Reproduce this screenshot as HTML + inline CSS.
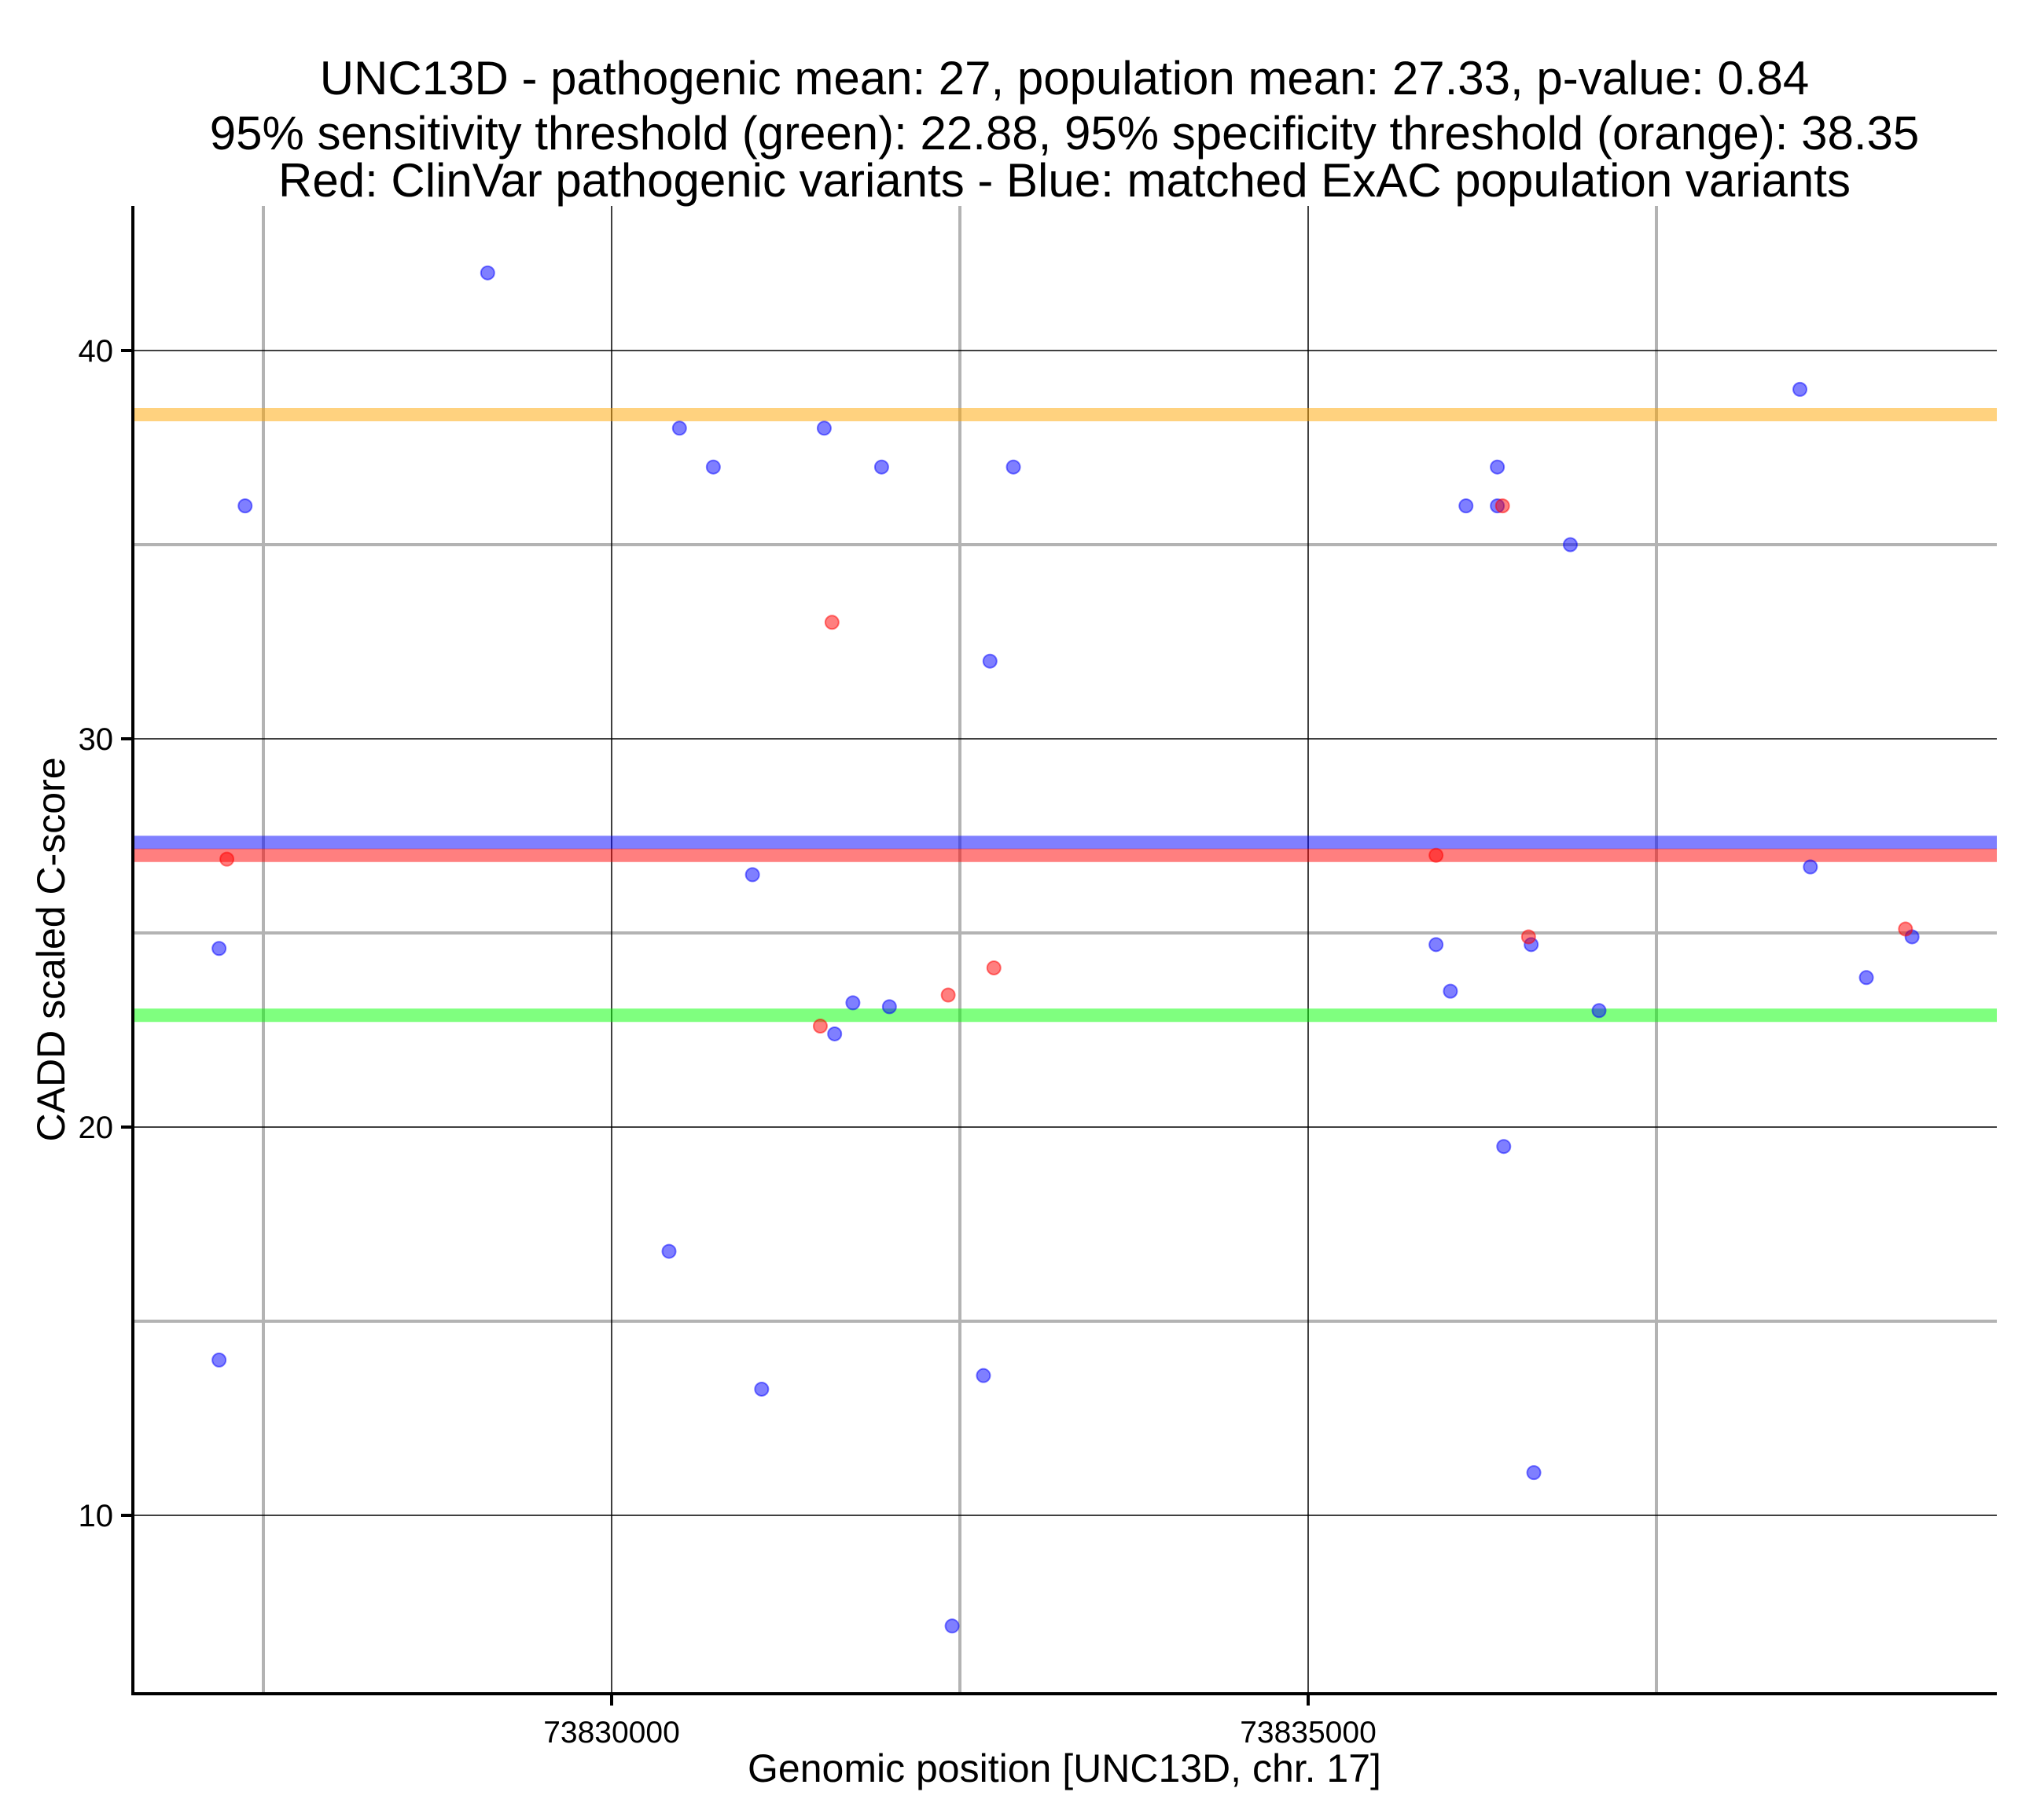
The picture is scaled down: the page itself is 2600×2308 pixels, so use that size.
<!DOCTYPE html>
<html><head><meta charset="utf-8"><style>
html,body{margin:0;padding:0;background:#fff;}
svg{display:block;font-family:"Liberation Sans",Arial,sans-serif;}
</style></head><body>
<svg id="chart" width="2600" height="2308" viewBox="0 0 2600 2308" xmlns="http://www.w3.org/2000/svg">
<g font-size="60" text-anchor="middle" fill="#000">
<text x="1354" y="120">UNC13D - pathogenic mean: 27, population mean: 27.33, p-value: 0.84</text>
<text x="1354" y="190">95% sensitivity threshold (green): 22.88, 95% specificity threshold (orange): 38.35</text>
<text x="1354" y="250">Red: ClinVar pathogenic variants - Blue: matched ExAC population variants</text>
</g>
<g id="grid"></g>
<g id="hlines"></g>
<g id="points"></g>
<g id="axes"></g>
<text x="1354" y="2267" font-size="50" text-anchor="middle">Genomic position [UNC13D, chr. 17]</text>
<text transform="translate(82,1208) rotate(-90)" font-size="50" text-anchor="middle">CADD scaled C-score</text>
</svg>
<script>
const xMajorTicks = [73830000, 73835000];
const xMinorTicks = [73827500, 73832500, 73837500];
const yMajorTicks = [10, 20, 30, 40];
const yMinorTicks = [15, 25, 35];
const blueX = [73827369,73827182,73827182,73829110,73830487,73830730,73831011,73831077,73830412,73831526,73831601,73831732,73831938,73831994,73832444,73832669,73832716,73832884,73835918,73836021,73836133,73836358,73836358,73836404,73836601,73836620,73836882,73837088,73838530,73838605,73839007,73839335];
const blueY = [36,24.6,14.0,42.0,38,37,26.5,13.25,16.8,38,22.4,23.2,37,23.1,7.15,13.6,32,37,24.7,23.5,36,37,36,19.5,24.7,11.1,35,23.0,39,26.7,23.85,24.9];
const redX = [73827238,73831582,73831498,73832416,73832744,73835918,73836395,73836582,73839288];
const redY = [26.9,33,22.6,23.4,24.1,27.0,36,24.9,25.1];
const thresholdNames = ['orange-specificity','blue-population-mean','red-pathogenic-mean','green-sensitivity'];
const thresholdValues = [38.35, 27.33, 27, 22.88];
const thresholdColors = ['rgba(255,165,0,0.5)','rgba(0,0,255,0.5)','rgba(255,0,0,0.5)','rgba(0,255,0,0.5)'];

const L=169,R=2540,T=262,B=2155;
function sx(v){return 778+(v-73830000)*(1664-778)/5000;}
function sy(v){return 446+(40-v)*(1928-446)/30;}
const NS='http://www.w3.org/2000/svg';
function mk(tag,attrs,parent){const e=document.createElementNS(NS,tag);for(const k in attrs)e.setAttribute(k,attrs[k]);parent.appendChild(e);return e;}
const grid=document.getElementById('grid'),hl=document.getElementById('hlines'),pts=document.getElementById('points'),ax=document.getElementById('axes');
yMinorTicks.forEach(v=>{const l=mk('line',{x1:L,x2:R,y1:sy(v),y2:sy(v),stroke:'#b3b3b3','stroke-width':4},grid);

});
xMinorTicks.forEach(v=>{const l=mk('line',{x1:sx(v),x2:sx(v),y1:T,y2:B,stroke:'#b3b3b3','stroke-width':4},grid);

});
yMajorTicks.forEach(v=>{const l=mk('line',{x1:L,x2:R,y1:sy(v),y2:sy(v),stroke:'#000','stroke-width':1.5},grid);

});
xMajorTicks.forEach(v=>{const l=mk('line',{x1:sx(v),x2:sx(v),y1:T,y2:B,stroke:'#000','stroke-width':1.5},grid);

});
thresholdValues.forEach((v,i)=>{const l=mk('line',{x1:L,x2:R,y1:sy(v),y2:sy(v),stroke:thresholdColors[i],'stroke-width':17},hl);

});
blueX.forEach((x,i)=>{const c=mk('circle',{cx:sx(x),cy:sy(blueY[i]),r:8.5,fill:'rgba(0,0,255,0.5)',stroke:'rgba(0,0,255,0.5)','stroke-width':2},pts);

});
redX.forEach((x,i)=>{const c=mk('circle',{cx:sx(x),cy:sy(redY[i]),r:8.5,fill:'rgba(255,0,0,0.5)',stroke:'rgba(255,0,0,0.5)','stroke-width':2},pts);

});
const ya=mk('line',{x1:L,x2:L,y1:T,y2:B+2,stroke:'#000','stroke-width':4},ax);


const xa=mk('line',{x1:L-2,x2:R,y1:B,y2:B,stroke:'#000','stroke-width':4},ax);


yMajorTicks.forEach(v=>{const t=mk('line',{x1:L-15,x2:L,y1:sy(v),y2:sy(v),stroke:'#000','stroke-width':4},ax);


const tx=mk('text',{x:L-25,y:sy(v)+14,'font-size':40,'text-anchor':'end'},ax);tx.textContent=v;

});
xMajorTicks.forEach(v=>{const t=mk('line',{x1:sx(v),x2:sx(v),y1:B,y2:B+15,stroke:'#000','stroke-width':4},ax);


const tx=mk('text',{x:sx(v),y:B+62,'font-size':39,'text-anchor':'middle'},ax);tx.textContent=v;

});
</script>
</body></html>
